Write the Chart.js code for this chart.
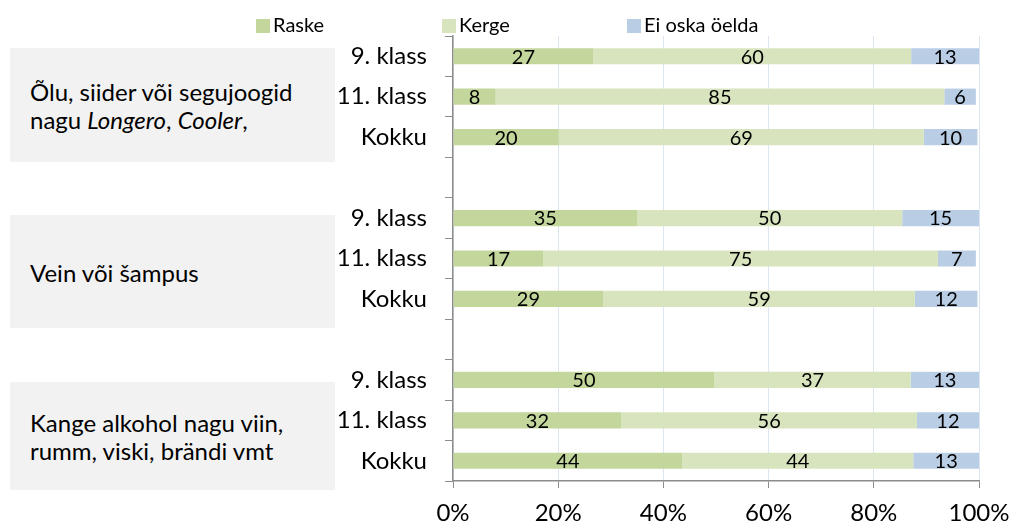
<!DOCTYPE html>
<html><head><meta charset="utf-8">
<script src="https://cdn.jsdelivr.net/npm/chart.js@4.4.1/dist/chart.umd.min.js"></script>
<style>
html,body{margin:0;padding:0;background:#fff;}
#wrap{position:relative;width:1010px;height:526px;overflow:hidden;}
canvas{position:absolute;left:0;top:0;}
.box{position:absolute;left:10px;width:325px;background:#F2F2F2;}
.txt{position:absolute;left:30px;font-family:Lato,sans-serif;font-size:24px;line-height:28px;color:#000;white-space:nowrap;}
.leg{position:absolute;top:14px;font-family:Lato,sans-serif;font-size:20px;line-height:20px;color:#000;white-space:nowrap;}
.leg span.sw{display:inline-block;width:14px;height:14px;margin-right:3px;vertical-align:-1px;}
</style></head><body>
<div id="wrap">
<div class="box" style="top:48px;height:114px"></div>
<div class="box" style="top:215px;height:113px"></div>
<div class="box" style="top:382px;height:108px"></div>
<div class="txt" style="top:78px">Õlu, siider või segujoogid<br>nagu <i>Longero</i>, <i>Cooler</i>,</div>
<div class="txt" style="top:259px">Vein või šampus</div>
<div class="txt" style="top:409px">Kange alkohol nagu viin,<br>rumm, viski, brändi vmt</div>
<canvas id="c" width="1010" height="526"></canvas>
</div>
<script>
const categories = ['9. klass','11. klass','Kokku','','9. klass','11. klass','Kokku','','9. klass','11. klass','Kokku'];
const seriesNames = ['Raske','Kerge','Ei oska öelda'];
const raske  = [26.7, 8.1, 20.1, null, 35.0, 17.2, 28.6, null, 49.7, 32.0, 43.6];
const kerge  = [60.4, 85.3, 69.4, null, 50.4, 75.0, 59.2, null, 37.3, 56.2, 43.9];
const eiOska = [12.9, 6.0, 10.2, null, 14.6, 7.2, 11.9, null, 13.0, 11.8, 12.5];
const xTicks = [0, 20, 40, 60, 80, 100];
const colors = ['#C3D69B', '#D7E4BD', '#B9CDE5'];

// legend (HTML)
const legX = [256, 442, 627];
seriesNames.forEach((n, i) => {
  const d = document.createElement('div');
  d.className = 'leg';
  d.style.left = legX[i] + 'px';
  d.innerHTML = '<span class="sw" style="background:' + colors[i] + '"></span>' + n;
  document.getElementById('wrap').appendChild(d);
});

const barLabels = {
  id: 'barLabels',
  afterDatasetsDraw(chart) {
    const ctx = chart.ctx;
    ctx.save();
    ctx.font = '20px Lato';
    ctx.fillStyle = '#000';
    ctx.textAlign = 'center';
    ctx.textBaseline = 'middle';
    chart.data.datasets.forEach((ds, i) => {
      const meta = chart.getDatasetMeta(i);
      meta.data.forEach((bar, j) => {
        const v = ds.data[j];
        if (v == null) return;
        const p = bar.getProps(['x', 'base', 'y'], true);
        ctx.fillText(String(Math.round(v)), (p.x + p.base) / 2, p.y + 1);
      });
    });
    ctx.restore();
  }
};

function draw() {
  new Chart(document.getElementById('c'), {
    type: 'bar',
    data: {
      labels: categories,
      datasets: [
        { label: seriesNames[0], data: raske, backgroundColor: colors[0] },
        { label: seriesNames[1], data: kerge, backgroundColor: colors[1] },
        { label: seriesNames[2], data: eiOska, backgroundColor: colors[2] }
      ]
    },
    options: {
      indexAxis: 'y',
      responsive: false,
      animation: false,
      events: [],
      datasets: { bar: { categoryPercentage: 1, barPercentage: 0.4, borderWidth: 0 } },
      layout: { padding: { top: 36, right: 31, left: 0, bottom: 0 } },
      plugins: { legend: { display: false }, tooltip: { enabled: false } },
      scales: {
        y: {
          stacked: true,
          afterFit(s) { s.width = 453; s.paddingTop = 0; s.paddingBottom = 0; },
          grid: { drawOnChartArea: false, drawTicks: true, tickLength: 8, color: '#8C8C8C', offset: true },
          border: { color: '#8C8C8C', width: 1.5 },
          ticks: { color: '#000', font: { family: 'Lato', size: 24 }, padding: 18, autoSkip: false }
        },
        x: {
          stacked: true,
          min: 0, max: 100,
          afterBuildTicks(s) { s.ticks = xTicks.map(v => ({ value: v })); },
          afterFit(s) { s.height = 45; s.paddingLeft = 0; s.paddingRight = 0; },
          grid: { color: '#DCE6F2', drawTicks: true, tickLength: 7, tickColor: '#8C8C8C' },
          border: { color: '#8C8C8C', width: 1.5 },
          ticks: { color: '#000', font: { family: 'Lato', size: 24 }, padding: 11, callback: v => v + '%', maxRotation: 0 }
        }
      }
    },
    plugins: [barLabels]
  });
}
if (document.fonts && document.fonts.load) {
  Promise.all([document.fonts.load('24px Lato'), document.fonts.load('italic 24px Lato'), document.fonts.load('20px Lato')]).then(draw, draw);
} else draw();
</script>
</body></html>
